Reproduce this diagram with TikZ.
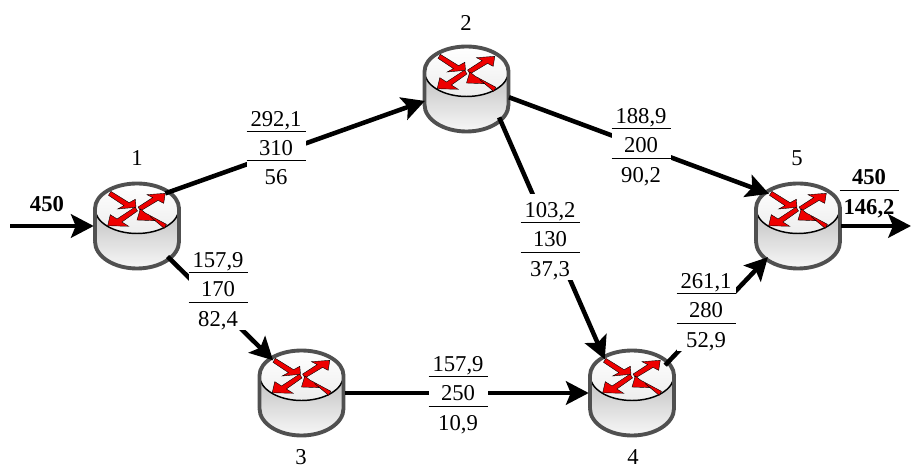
\documentclass[tikz,border=0pt]{standalone}
\usepackage{fontspec}
\setmainfont{Liberation Serif}
\usetikzlibrary{arrows.meta}
\definecolor{routerline}{HTML}{505050}
\definecolor{routerred}{HTML}{EE0000}
\setlength{\arrayrulewidth}{0.6pt}
\newcommand{\rowstrut}{\rule[-3.6pt]{0pt}{21.4pt}}
\newcommand{\laststrut}{\rule[-1.5pt]{0pt}{19.3pt}}
\newcommand{\flowfrac}[3]{\renewcommand{\arraystretch}{0}\begin{tabular}{@{\hspace{3pt}}c@{\hspace{3pt}}}#1\rowstrut\\\hline #2\rowstrut\\\hline #3\laststrut\end{tabular}}
\tikzset{
  base/.style={font=\fontsize{17}{21.75}\selectfont, inner sep=0pt},
  basebold/.style={font=\fontsize{17}{21.75}\selectfont\bfseries, inner sep=0pt},
  routernode/.style={circle, minimum size=64.5pt, inner sep=0pt},
  flowlabel/.style={base, fill=white},
  flowarrow/.style={-{Stealth[length=17pt,width=17.5pt,inset=3.5pt]}, line width=3.4pt},
  routerflow/.style={fill=routerred, draw=black, line width=0.3pt},
  pics/router/.style={code={
    % body
    \shade[top color=black!25, bottom color=black!3]
      (-42,17.5) -- (-42,-15.5) arc[start angle=180, end angle=360, x radius=42, y radius=27] -- (42,17.5) -- cycle;
    % top face
    \shade[top color=white, bottom color=black!7] (0,17.5) ellipse[x radius=42, y radius=25];
    \draw[line width=1.1pt] (-42,17.5) arc[start angle=180, end angle=360, x radius=42, y radius=25];
    % outline
    \draw[routerline, line width=2.9pt]
      (-42,-15.5) -- (-42,17.5) arc[start angle=180, end angle=0, x radius=42, y radius=25]
      -- (42,-15.5) arc[start angle=360, end angle=180, x radius=42, y radius=27];
    % flows
    \begin{scope}[shift={(0,18)}]
      \draw[routerflow] (-26.1,16.6) -- (-7.9,5.3) -- (-1.7,8.7) -- (-1,0.7) -- (-19.3,-1) -- (-13.1,2.4) -- (-28.5,12.7) -- cycle;
      \draw[routerflow] (1.1,0.95) -- (15.65,10.4) -- (10,13.3) -- (28.3,14.7) -- (26.7,4.7) -- (21.05,7.6) -- (3.5,-2.95) -- cycle;
      \draw[routerflow] (0.5,-2.97) -- (-15.1,-14) -- (-8.3,-18.3) -- (-29.3,-17.7) -- (-26.7,-6.7) -- (-19.9,-11) -- (-1.9,0.97) -- cycle;
      \draw[routerflow] (29.4,-16.3) -- (8.6,-5.15) -- (3.3,-1) -- (0,-12) -- (18.3,-12.7) -- (13,-8.55) -- (27.2,-20.3) -- cycle;
    \end{scope}
  }}
}
\begin{document}
\begin{tikzpicture}[x=0.75pt, y=0.75pt]
  \useasboundingbox (0,0) rectangle (911,468);

  % routers
  \node[routernode] (r1) at (137,242) {};
  \node[routernode] (r2) at (466.5,379) {};
  \node[routernode] (r3) at (301.5,75) {};
  \node[routernode] (r4) at (632,75) {};
  \node[routernode] (r5) at (798,242) {};
  \pic at (r1) {router};
  \pic at (r2) {router};
  \pic at (r3) {router};
  \pic at (r4) {router};
  \pic at (r5) {router};

  % numbers
  \node[base] (n1) at (137,310) {1};
  \node[base] (n2) at (466,445) {2};
  \node[base] (n3) at (301,11) {3};
  \node[base] (n4) at (633,11) {4};
  \node[base] (n5) at (797,310) {5};

  % free ends
  \coordinate (in) at (10,242);
  \coordinate (out) at (911,242);

  % links
  \draw[flowarrow] (in) -- (r1.west);
  \draw[flowarrow] (r1.49) -- (r2.196);
  \draw[flowarrow] (r1.-45) -- (r3.131);
  \draw[flowarrow] (r2.-11) -- (r5.132);
  \draw[flowarrow] (r2.-41) -- (r4.129);
  \draw[flowarrow] (r3.east) -- (r4.west);
  \draw[flowarrow] (r4.40) -- (r5.226);
  \draw[flowarrow] (r5.east) -- (out);

  % link labels
  \node[flowlabel] (l12) at (276,323.4) {\flowfrac{292,1}{310}{56}};
  \node[flowlabel] (l13) at (218,181.4) {\flowfrac{157,9}{170}{82,4}};
  \node[flowlabel] (l25) at (641,325.4) {\flowfrac{188,9}{200}{90,2}};
  \node[flowlabel] (l24) at (550,231.4) {\flowfrac{103,2}{130}{37,3}};
  \node[flowlabel] (l34) at (458,77.4) {\flowfrac{157,9}{250}{10,9}};
  \node[flowlabel] (l45) at (706,160.4) {\flowfrac{261,1}{280}{52,9}};

  % totals
  \node[basebold] (tin) at (47,264) {450};
  \node[basebold] (tout) at (869,278)
    {\renewcommand{\arraystretch}{0}\begin{tabular}{@{\hspace{3pt}}c@{\hspace{3pt}}}450\rowstrut\\\hline 146,2\rowstrut\end{tabular}};
\end{tikzpicture}
\end{document}
